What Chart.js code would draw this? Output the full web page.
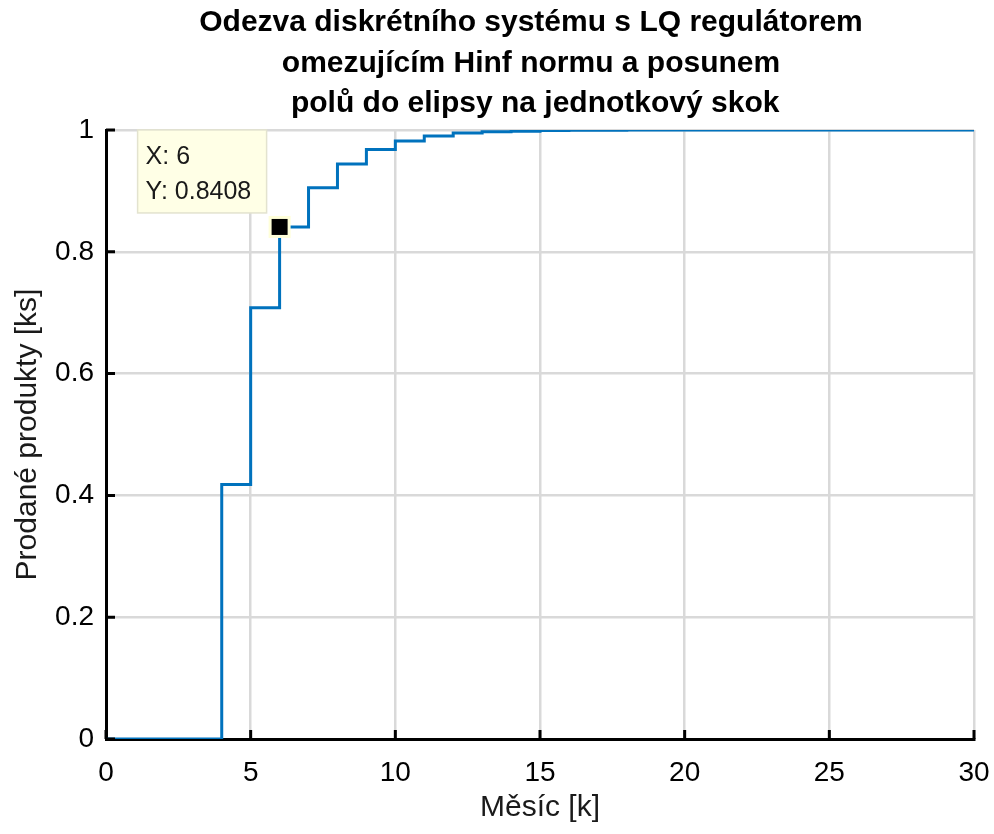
<!DOCTYPE html>
<html>
<head>
<meta charset="utf-8">
<script src="https://cdn.jsdelivr.net/npm/chart.js@4/dist/chart.umd.min.js"></script>
<style>
  body { margin: 0; background: #fff; }
  #wrap { width: 994px; height: 834px; position: relative; }
</style>
</head>
<body>
<div id="wrap"><canvas id="stepChart"></canvas></div>
<script>
// step response data (month k -> sold products)
var months = [0, 1, 2, 3, 4, 5, 6, 7, 8, 9, 10, 11, 12, 13, 14, 15, 16, 17, 18, 19, 20,
              21, 22, 23, 24, 25, 26, 27, 28, 29, 30];
var response = [0, 0, 0, 0, 0.418, 0.708, 0.8408, 0.905, 0.944, 0.968, 0.982, 0.990, 0.995,
                0.997, 0.998, 0.999, 0.9994, 0.9996, 0.9998, 0.9999, 0.9999, 1, 1, 1, 1, 1,
                1, 1, 1, 1, 1];
var tipX = [6];
var tipY = [0.8408];
var titleLines = ['Odezva diskrétního systému s LQ regulátorem',
                  'omezujícím Hinf normu a posunem',
                  ' polů do elipsy na jednotkový skok'];

var FONT = '"Liberation Sans", Arial, sans-serif';

// title drawn by hand so it can sit where MATLAB put it
var titleDraw = {
    id: 'titleDraw',
    afterDraw: function (chart) {
        var ctx = chart.ctx;
        ctx.save();
        ctx.fillStyle = '#000';
        ctx.font = 'bold 30px ' + FONT;
        ctx.textAlign = 'center';
        ctx.textBaseline = 'middle';
        titleLines.forEach(function (line, i) {
            ctx.fillText(line, 531, 23 + i * 40.5);
        });
        ctx.restore();
    }
};

// MATLAB-like inward tick marks
var inwardTicks = {
    id: 'inwardTicks',
    afterDatasetsDraw: function (chart) {
        var ctx = chart.ctx, xs = chart.scales.x, ys = chart.scales.y;
        var a = chart.chartArea;
        ctx.save();
        ctx.strokeStyle = '#000';
        ctx.lineWidth = 3;
        ctx.beginPath();
        xs.ticks.forEach(function (t) {
            var px = xs.getPixelForValue(t.value);
            ctx.moveTo(px, a.bottom);
            ctx.lineTo(px, a.bottom - 9);
        });
        ys.ticks.forEach(function (t) {
            var py = ys.getPixelForValue(t.value);
            ctx.moveTo(a.left, py);
            ctx.lineTo(a.left + 9, py);
        });
        ctx.stroke();
        ctx.restore();
    }
};

// data tip box like in the figure
var dataTip = {
    id: 'dataTip',
    afterDatasetsDraw: function (chart) {
        var ctx = chart.ctx;
        var px = chart.scales.x.getPixelForValue(tipX[0]);
        var py = chart.scales.y.getPixelForValue(tipY[0]);
        var w = 129, h = 83;
        var bx = px - 13 - w, by = py - 14 - h;
        ctx.save();
        ctx.fillStyle = '#ffffe6';
        ctx.strokeStyle = '#e3e3cf';
        ctx.lineWidth = 1.5;
        ctx.fillRect(bx, by, w, h);
        ctx.strokeRect(bx, by, w, h);
        ctx.fillStyle = '#1a1a1a';
        ctx.font = '25px ' + FONT;
        ctx.textBaseline = 'middle';
        ctx.fillText('X: ' + tipX[0], bx + 8, by + 27);
        ctx.fillText('Y: ' + tipY[0], bx + 8, by + 62);
        // marker
        ctx.fillStyle = '#ffffd9';
        ctx.fillRect(px - 11, py - 11, 22, 22);
        ctx.fillStyle = '#000';
        ctx.fillRect(px - 8, py - 8, 16, 16);
        ctx.restore();
    }
};

var points = months.map(function (m, i) { return { x: m, y: response[i] }; });

new Chart(document.getElementById('stepChart'), {
    type: 'line',
    data: {
        datasets: [{
            data: points,
            borderColor: '#0072BD',
            borderWidth: 3,
            stepped: 'before',
            pointRadius: 0,
            fill: false
        }]
    },
    options: {
        responsive: true,
        maintainAspectRatio: false,
        animation: false,
        layout: { padding: { left: 0, right: 20, top: 130, bottom: 0 } },
        plugins: {
            legend: { display: false },
            tooltip: { enabled: false },
            title: { display: false }
        },
        scales: {
            x: {
                type: 'linear',
                min: 0, max: 30,
                afterFit: function (s) { s.height = 95; s.paddingRight = 0; s.paddingLeft = 0; },
                ticks: { stepSize: 5, color: '#000', padding: 17, font: { family: FONT, size: 28 } },
                grid: { color: '#d9d9d9', lineWidth: 2.5, drawTicks: false },
                border: { color: '#000', width: 3 },
                title: { display: true, text: 'Měsíc [k]', color: '#1a1a1a', font: { family: FONT, size: 30 }, padding: { top: 0, bottom: 8 } }
            },
            y: {
                min: 0, max: 1,
                afterFit: function (s) { s.width = 106; },
                ticks: {
                    stepSize: 0.2, color: '#000', padding: 12,
                    font: { family: FONT, size: 28 },
                    callback: function (v) { return String(Math.round(v * 10) / 10); }
                },
                grid: { color: '#d9d9d9', lineWidth: 2.5, drawTicks: false },
                border: { color: '#000', width: 3 },
                title: { display: true, text: 'Prodané produkty [ks]', color: '#1a1a1a', font: { family: FONT, size: 30 }, padding: { top: 10, bottom: 0 } }
            }
        }
    },
    plugins: [inwardTicks, dataTip, titleDraw]
});
</script>
</body>
</html>
